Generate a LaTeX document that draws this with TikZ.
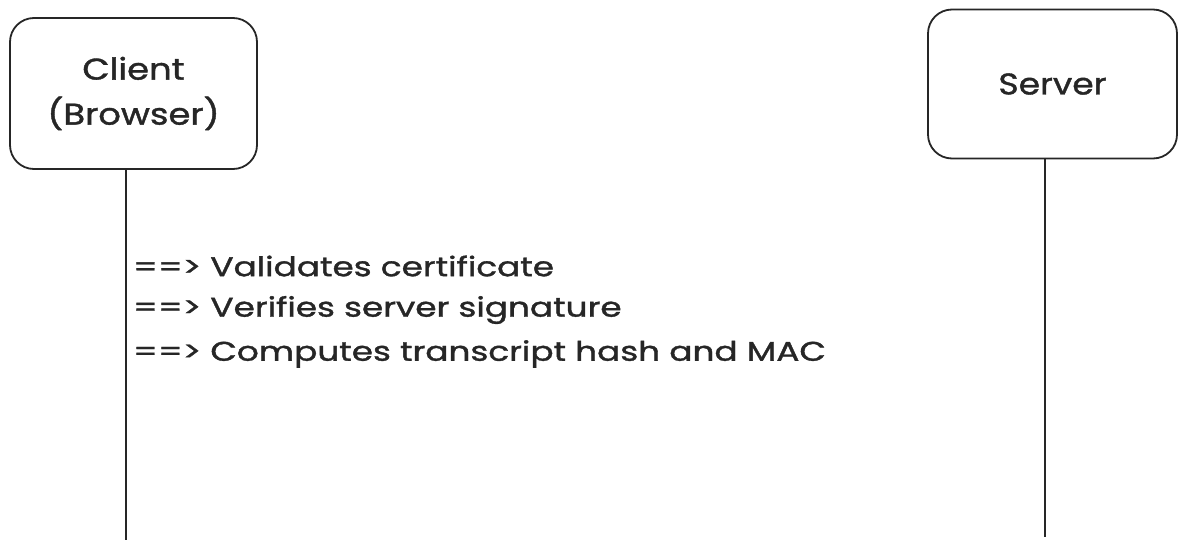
\documentclass[tikz,border=0pt]{standalone}
\usepackage{fontspec}
\setmainfont{Poppins}[BoldFont=Poppins, BoldFeatures={FakeBold=1.2}]
\begin{document}
\begin{tikzpicture}[x=1pt,y=1pt,
  actor/.style={draw=black!85, line width=1.8pt, rounded corners=24pt, minimum width=247pt, minimum height=151pt, align=center, font=\bfseries\fontsize{30}{45}\selectfont, text=black!85},
  life/.style={draw=black!85, line width=2pt},
  note/.style={anchor=west, inner sep=0pt, font=\bfseries\fontsize{27}{30}\selectfont, text=black!85}]
\useasboundingbox (0,0) rectangle (1186,-549);
\node[actor] (client) at (133.5,-93.5) {\scalebox{1.18}[1]{Client}\\\scalebox{1.18}[1]{(Browser)}};
\node[actor, minimum width=249pt, minimum height=149pt] (server) at (1052.5,-84) {\scalebox{1.15}[1]{Server}};
\coordinate (cend) at (126,-540);
\coordinate (send) at (1045,-537);
\draw[life] (client.south -| cend) -- (cend);
\draw[life] (server.south -| send) -- (send);
\node[note] (n1) at (133,-266) {\scalebox{1.27}[1]{==> Validates certificate}};
\node[note] (n2) at (133,-310) {\scalebox{1.27}[1]{==> Verifies server signature}};
\node[note] (n3) at (133,-354) {\scalebox{1.27}[1]{==> Computes transcript hash and MAC}};
\end{tikzpicture}
\end{document}
